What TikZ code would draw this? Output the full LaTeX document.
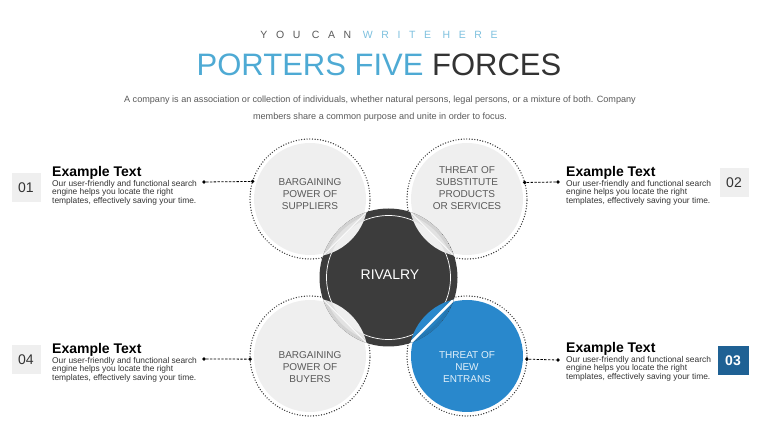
\documentclass[tikz,border=0pt]{standalone}
\usepackage{fontspec}
\setmainfont{Liberation Sans}
\usetikzlibrary{calc}
\definecolor{forceGray}{HTML}{EFEFEF}
\definecolor{ringGray}{HTML}{333333}
\definecolor{rivalDark}{HTML}{3C3C3C}
\definecolor{forceBlue}{RGB}{41,136,204}
\definecolor{boxBlue}{RGB}{31,97,148}
\definecolor{titleBlue}{RGB}{78,170,212}
\definecolor{lightBlue}{RGB}{125,192,222}
\definecolor{blueText}{RGB}{225,240,250}
\definecolor{textGray}{HTML}{595959}
\definecolor{bodyGray}{HTML}{333333}

\begin{document}
\begin{tikzpicture}[x=1pt,y=1pt,
    forcefill/.style={circle,fill=forceGray,minimum size=112pt,inner sep=0pt},
    forcering/.style={circle,draw=ringGray,line width=1.4pt,dash pattern=on 0pt off 2.7pt,
      line cap=round,minimum size=120pt,inner sep=0pt,outer sep=0pt},
    forcetext/.style={align=center,font=\fontsize{10}{11.8}\selectfont,text=textGray},
    numbox/.style={fill=forceGray,minimum width=29pt,minimum height=29pt,inner sep=0pt,
      font=\fontsize{14}{14}\selectfont,text=bodyGray},
    headtext/.style={font=\bfseries\fontsize{14}{14}\selectfont,text=black,anchor=base west,inner sep=0pt},
    bodytext/.style={font=\fontsize{8.4}{8.7}\selectfont,text=bodyGray,align=left,anchor=north west,inner sep=0pt},
    pin/.style={circle,fill=black,minimum size=3.8pt,inner sep=0pt},
    link/.style={black,line width=0.8pt,dash pattern=on 2.4pt off 1.4pt}]
  \useasboundingbox (0,0) rectangle (760,428);
  % heading
  \node[font=\fontsize{10.5}{10.5}\selectfont\addfontfeature{LetterSpace=82}] (kicker) at (379,393)
    {\textcolor{textGray}{YOU CAN} \textcolor{lightBlue}{WRITE HERE}};
  \node[font=\fontsize{31}{31}\selectfont] (title) at (379,363)
    {\textcolor{titleBlue}{PORTERS FIVE} \textcolor{bodyGray}{FORCES}};
  \node[font=\fontsize{9.1}{17}\selectfont,text=textGray,align=center] (intro) at (380,319.5)
    {A company is an association or collection of individuals, whether natural persons, legal persons, or a mixture of both. Company\\
     members share a common purpose and unite in order to focus.};
  % four forces
  \node[forcefill] (tlfill) at (310,229) {};
  \node[forcering] (tl) at (310,229) {};
  \node[forcefill] (trfill) at (467,229) {};
  \node[forcering] (tr) at (467,229) {};
  \node[forcefill] (blfill) at (310,72) {};
  \node[forcering] (bl) at (310,72) {};
  \node[forcefill,fill=forceBlue] (brfill) at (467,72) {};
  \node[forcering] (br) at (467,72) {};
  % rivalry in the middle
  \node[circle,fill=rivalDark,minimum size=138pt,inner sep=0pt] (rival) at (388.5,150.5) {};
  \draw[white,line width=0.7pt] (rival.center) circle (62);
  \foreach \corner/\ang/\col/\strip in {tl/135/forceGray/0.8pt, tr/45/forceGray/0.8pt,
      bl/225/forceGray/0.8pt, br/-45/forceBlue/2.6pt}{
    \begin{scope}
      \clip (rival.center) circle (69);
      \clip (\corner.center) circle (58);
      \fill[\col] (rival.center) circle (69);
      \draw[black,opacity=0.05,line width=14pt] (rival.center) circle (69);
      \draw[black,opacity=0.07,line width=6pt] (rival.center) circle (69);
      \draw[white,line width=\strip] ($(rival.center)+(\ang:61.8)$) ++(\ang+90:40) -- ++(\ang-90:80);
    \end{scope}
  }
  \node[font=\fontsize{14}{14}\selectfont,text=white] (rivaltext) at (390,153) {RIVALRY};
  \node[forcetext] (tltext) at (310,234) {BARGAINING\\POWER OF\\SUPPLIERS};
  \node[forcetext] (trtext) at (467,240) {THREAT OF\\SUBSTITUTE\\PRODUCTS\\OR SERVICES};
  \node[forcetext] (bltext) at (310,61) {BARGAINING\\POWER OF\\BUYERS};
  \node[forcetext,text=blueText] (brtext) at (467,61) {THREAT OF\\NEW\\ENTRANS};
  % numbers
  \node[numbox] (n01) at (26,240) {01};
  \node[numbox] (n02) at (734,245) {02};
  \node[numbox,fill=boxBlue,minimum width=31pt,text=white,font=\bfseries\fontsize{14}{14}\selectfont] (n03) at (733,67) {03};
  \node[numbox] (n04) at (26,68) {04};
  % text blocks
  \node[headtext] (h01) at (52,251) {Example Text};
  \node[bodytext] (b01) at (52,248) {Our user-friendly and functional search\\engine helps you locate the right\\templates, effectively saving your time.};
  \node[headtext] (h02) at (566,251) {Example Text};
  \node[bodytext] (b02) at (566,248) {Our user-friendly and functional search\\engine helps you locate the right\\templates, effectively saving your time.};
  \node[headtext] (h03) at (566,75) {Example Text};
  \node[bodytext] (b03) at (566,72) {Our user-friendly and functional search\\engine helps you locate the right\\templates, effectively saving your time.};
  \node[headtext] (h04) at (52,74) {Example Text};
  \node[bodytext] (b04) at (52,71) {Our user-friendly and functional search\\engine helps you locate the right\\templates, effectively saving your time.};
  % connectors
  \node[pin] (p01) at (204,246) {};
  \node[pin] (q01) at (tl.163.5) {};
  \draw[link] (p01) -- (q01);
  \node[pin] (p02) at (558,246) {};
  \node[pin] (q02) at (tr.16.5) {};
  \draw[link] (q02) -- (p02);
  \node[pin] (p03) at (558,68) {};
  \node[pin] (q03) at (br.-3.5) {};
  \draw[link] (q03) -- (p03);
  \node[pin] (p04) at (204,69) {};
  \node[pin] (q04) at (bl.183) {};
  \draw[link] (p04) -- (q04);
\end{tikzpicture}
\end{document}
